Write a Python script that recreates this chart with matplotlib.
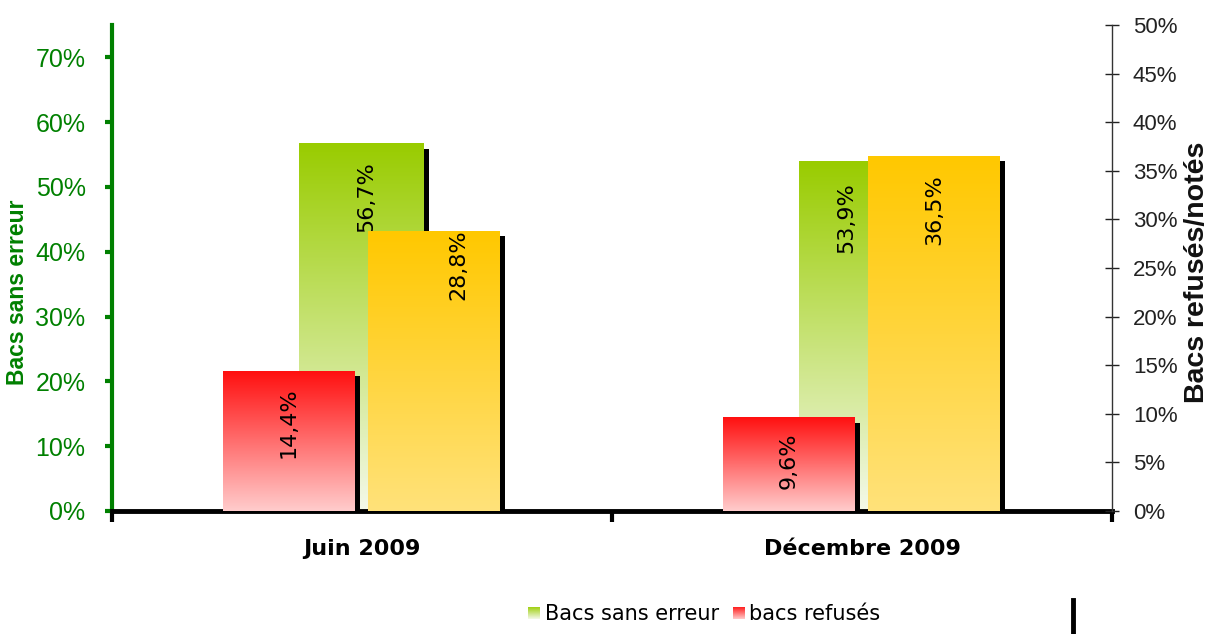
import numpy as np
import matplotlib.pyplot as plt
from matplotlib.colors import LinearSegmentedColormap
from matplotlib.patches import Rectangle
from matplotlib.lines import Line2D

# données
periodes = ['Juin 2009', 'Décembre 2009']
sans_erreur = [56.7, 53.9]   # axe gauche (%)
refuses = [14.4, 9.6]        # axe droit (%)
notes = [28.8, 36.5]         # axe droit (%)

left_ticks = [0, 10, 20, 30, 40, 50, 60, 70]
right_ticks = [0, 5, 10, 15, 20, 25, 30, 35, 40, 45, 50]

W, H = 1211, 634
fig = plt.figure(figsize=(W / 100, H / 100), dpi=100)
ax1 = fig.add_axes([112 / W, 1 - 511 / H, 1000 / W, 486 / H])
ax2 = ax1.twinx()

GREEN = '#008000'
grad = np.linspace(0, 1, 256).reshape(-1, 1)


def fmt(v):
    return f"{v:.1f}%".replace('.', ',')


def gradient_bars(ax, xs, heights, width, c_bottom, c_top, shadow_dy, z):
    bars = ax.bar(xs, heights, width, color='none', edgecolor='none', zorder=z)
    cmap = LinearSegmentedColormap.from_list('g', [c_bottom, c_top])
    for b in bars:
        x0, w, h = b.get_x(), b.get_width(), b.get_height()
        # ombre portée à droite
        ax.add_patch(Rectangle((x0 + 0.01, 0), w, h - shadow_dy,
                               color='black', zorder=z - 1, lw=0))
        ax.imshow(grad, extent=(x0, x0 + w, 0, h), origin='lower',
                  aspect='auto', cmap=cmap, zorder=z, interpolation='bilinear')
    return bars


x = np.arange(len(periodes))

# barres vertes (axe gauche), derrière
gradient_bars(ax1, x, sans_erreur, 0.25, '#F4F9EA', '#99CC00', 0.77, 3)
# barres rouges et jaunes (axe droit)
gradient_bars(ax2, x - 0.146, refuses, 0.264, '#FFCCCC', '#FF1010', 0.51, 3)
gradient_bars(ax2, x + 0.144, notes, 0.264, '#FFE27A', '#FFC800', 0.51, 3)

# étiquettes de valeurs (décalages en pixels)
lab_font = dict(rotation=90, ha='center', va='top', fontsize=16,
                color='black', zorder=10)
for i in range(len(periodes)):
    dx_g = [4, -16][i]
    ax1.annotate(fmt(sans_erreur[i]), (x[i], sans_erreur[i]),
                 xytext=(dx_g, -[18, 21][i]), textcoords='offset pixels', **lab_font)
    ax2.annotate(fmt(refuses[i]), (x[i] - 0.146, refuses[i]),
                 xytext=(0, -[16, 15][i]), textcoords='offset pixels', **lab_font)
    dx_y = [24, 0][i]
    ax2.annotate(fmt(notes[i]), (x[i] + 0.144, notes[i]),
                 xytext=(dx_y, -[-2, 18][i]), textcoords='offset pixels', **lab_font)

# axes
ax1.set_xlim(-0.5, 1.5)
ax1.set_ylim(0, 75)
ax2.set_ylim(0, 50)

ax1.set_yticks(left_ticks, [f"{t}%" for t in left_ticks])
ax1.tick_params(axis='y', colors=GREEN, labelsize=18, length=5, width=3,
                direction='out', pad=14)
for lab in ax1.get_yticklabels():
    lab.set_fontfamily('Liberation Sans')

ax2.set_yticks(right_ticks, [f"{t}%" for t in right_ticks])
ax2.tick_params(axis='y', colors='#222222', labelsize=16, length=10, width=1,
                direction='inout', pad=10)
for lab in ax2.get_yticklabels():
    lab.set_fontfamily('Liberation Sans')

ax1.set_xticks(x, periodes)
ax1.set_xticks([-0.5, 0.5, 1.5], minor=True)
ax1.tick_params(axis='x', which='major', length=0, pad=20, labelsize=16)
ax1.tick_params(axis='x', which='minor', length=8, width=3, color='black')
for lab in ax1.get_xticklabels():
    lab.set_fontweight('bold')

ax1.spines['top'].set_visible(False)
ax1.spines['right'].set_visible(False)
ax1.spines['left'].set_color(GREEN)
ax1.spines['left'].set_linewidth(3)
ax1.spines['bottom'].set_color('black')
ax1.spines['bottom'].set_linewidth(3.5)
ax1.spines['bottom'].set_zorder(20)

ax2.spines['top'].set_visible(False)
ax2.spines['left'].set_visible(False)
ax2.spines['bottom'].set_visible(False)
ax2.spines['right'].set_color('#333333')
ax2.spines['right'].set_linewidth(1)

# titres d'axes
fig.text(18 / W, 1 - 292 / H, 'Bacs sans erreur', rotation=90, ha='center',
         va='center', color=GREEN, fontsize=16.5, fontweight='bold',
         family='Liberation Sans')
fig.text(1197 / W, 1 - 272 / H, 'Bacs refusés/notés', rotation=90, ha='center',
         va='center', color='#111111', fontsize=20.5, fontweight='bold',
         family='Liberation Sans')

# légende manuelle
sw_g = fig.add_axes([528 / W, 1 - 619 / H, 12 / W, 12 / H])
sw_g.imshow(grad, origin='lower', aspect='auto',
            cmap=LinearSegmentedColormap.from_list('g', ['#F4F9EA', '#99CC00']))
sw_g.axis('off')
sw_r = fig.add_axes([733 / W, 1 - 619 / H, 12 / W, 12 / H])
sw_r.imshow(grad, origin='lower', aspect='auto',
            cmap=LinearSegmentedColormap.from_list('r', ['#FFCCCC', '#FF1010']))
sw_r.axis('off')
fig.text(545 / W, 1 - 614 / H, 'Bacs sans erreur', ha='left', va='center',
         fontsize=15)
fig.text(749 / W, 1 - 614 / H, 'bacs refusés', ha='left', va='center',
         fontsize=15)
fig.add_artist(Line2D([1073 / W, 1073 / W], [0, 1 - 600 / H], color='black',
                      lw=3.5, transform=fig.transFigure))

fig.savefig('out.png', dpi=100)
